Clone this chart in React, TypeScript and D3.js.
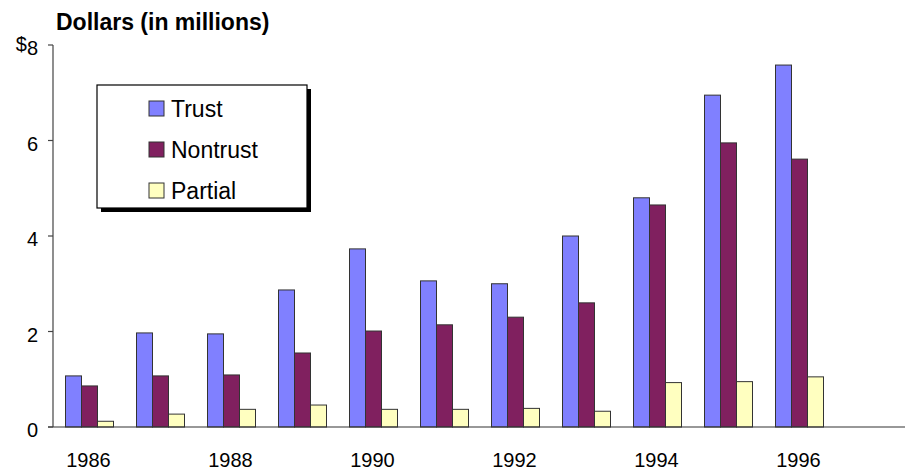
import React from "react";
import * as d3 from "d3";

const years = ["1986","1987","1988","1989","1990","1991","1992","1993","1994","1995","1996","1997"];
const seriesNames = ["Trust", "Nontrust", "Partial"];
const trust = [1.07, 1.97, 1.95, 2.87, 3.73, 3.06, 3.0, 4.0, 4.8, 6.95, 7.58, null];
const nontrust = [0.86, 1.07, 1.09, 1.55, 2.01, 2.14, 2.3, 2.6, 4.65, 5.95, 5.61, null];
const partial = [0.12, 0.27, 0.37, 0.46, 0.37, 0.37, 0.39, 0.33, 0.93, 0.95, 1.05, null];
const yTicks = [0, 2, 4, 6, 8];
const xLabels = ["1986","1988","1990","1992","1994","1996"];
const colors = ["#8080ff", "#80205f", "#ffffc0"];

export default function App() {
  const W = 911, H = 473;
  const x0 = d3.scaleBand().domain(years).range([53, 905]).paddingInner(0).paddingOuter(0);
  const y = d3.scaleLinear().domain([0, 8]).range([427, 45]);
  const bw = 16;
  const x1 = d3.scaleBand().domain(seriesNames).range([0, bw * 3]);
  const data = [trust, nontrust, partial];
  const offset = (x0.bandwidth() - bw * 3) / 2 + 1;
  const font = "Arial, 'Liberation Sans', sans-serif";
  return (
    <div style={{ position: "fixed", left: 0, top: 0 }}>
      <svg width={W} height={H} style={{ display: "block", background: "#fff" }} fontFamily={font}>
        <text x={56} y={30} fontSize={23} fontWeight="bold">Dollars (in millions)</text>
        {/* bars */}
        {years.map((yr, i) => (
          <g key={yr} transform={`translate(${x0(yr)! + offset},0)`}>
            {data.map((s, j) => {
              const v = s[i];
              if (v == null) return null;
              return (
                <rect key={j} x={x1(seriesNames[j])} y={y(v)} width={x1.bandwidth()} height={y(0) - y(v)}
                  fill={colors[j]} stroke="#333" strokeWidth={1} />
              );
            })}
          </g>
        ))}
        {/* axes */}
        <line x1={53} x2={53} y1={y(8)} y2={y(0)} stroke="#444" strokeWidth={1.2} />
        <line x1={48} x2={905} y1={y(0)} y2={y(0)} stroke="#333" strokeWidth={1.2} />
        {yTicks.map(t => (
          <g key={t}>
            <line x1={48} x2={53} y1={y(t)} y2={y(t)} stroke="#444" strokeWidth={1.2} />
            {t === 8 ? (
              <text x={38} y={y(t) + 10} fontSize={20} textAnchor="end">
                <tspan dy="-0.2em">$</tspan><tspan dy="0.2em">8</tspan>
              </text>
            ) : (
              <text x={38} y={y(t)} dy="0.5em" fontSize={20} textAnchor="end">{t}</text>
            )}
          </g>
        ))}
        {xLabels.map(l => (
          <text key={l} x={x0(l)! + x0.bandwidth() / 2} y={467} fontSize={20} textAnchor="middle">{l}</text>
        ))}
        {/* legend */}
        <rect x={101} y={89} width={210} height={123} fill="#000" />
        <rect x={97} y={85} width={210} height={123} fill="#fff" stroke="#000" strokeWidth={1.2} />
        {seriesNames.map((n, j) => (
          <g key={n} transform={`translate(0,${108.5 + j * 41})`}>
            <rect x={149} y={-7.5} width={15} height={15} fill={colors[j]} stroke="#333" strokeWidth={1} />
            <text x={171} y={0} dy="0.36em" fontSize={23}>{n}</text>
          </g>
        ))}
      </svg>
    </div>
  );
}
